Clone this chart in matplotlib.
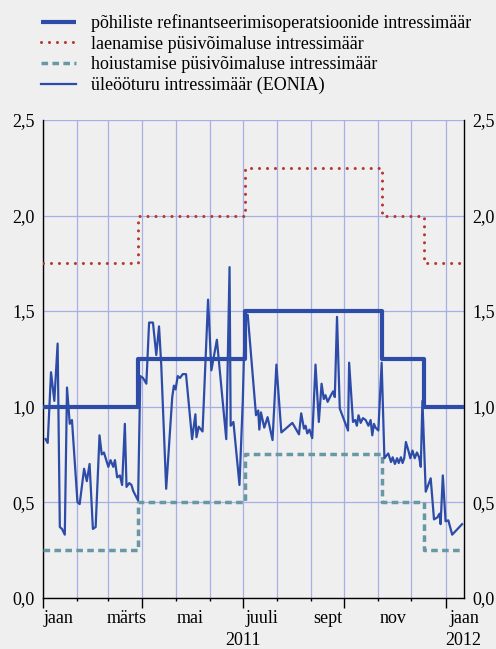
import matplotlib
matplotlib.use('Agg')
import matplotlib.pyplot as plt
import matplotlib.dates as mdates
from matplotlib.lines import Line2D
import numpy as np
import pandas as pd

plt.rcParams['font.family'] = ['Liberation Serif', 'DejaVu Serif']

START = pd.Timestamp('2011-01-01')

# key ECB rates, step changes (days counted from 1 Jan 2011)
policy_days = [0, 86, 183, 307, 345, 382]
mro_rate = [1.00, 1.25, 1.50, 1.25, 1.00, 1.00]
mlf_rate = [1.75, 2.00, 2.25, 2.00, 1.75, 1.75]
dep_rate = [0.25, 0.50, 0.75, 0.50, 0.25, 0.25]

# EONIA
eonia_days = [2, 4, 7, 10, 13, 15, 17, 19.5, 21.5, 24, 26, 31, 33, 37, 39.5, 42, 45, 47.5,
              51, 53, 55, 59, 61, 63.5, 65, 67, 69.5, 71.5, 74, 75.5, 78, 80, 81.5, 85, 86,
              88, 90.5, 93.5, 96, 99.5, 102.5, 105, 107, 111.5, 117, 118.5, 120, 122, 124,
              126.5, 129.5, 135, 138, 139, 141, 144.5, 149.5, 152.5, 157.5, 166, 169, 170,
              172.5, 178, 181, 183, 185.5, 193, 195, 196, 197.5, 200.5, 203.5, 208, 211.5,
              216, 221, 226, 232, 234, 236.5, 238, 239.5, 241.5, 244, 247, 250, 252.5, 254.5,
              256, 258, 261, 263, 264.5, 266.5, 269, 276.5, 277.5, 281, 283, 284.5, 286, 288,
              290, 292.5, 295, 297, 298.5, 300, 301.5, 304, 307, 309.5, 311.5, 313, 315.5,
              317, 319, 321, 322.5, 324.5, 326, 327.5, 329, 331.5, 333, 335, 337, 339, 341,
              342.5, 344, 347, 351.5, 354.5, 357.5, 359.5, 360.5, 362.5, 365, 367.5, 371, 380]
eonia_rate = [0.83, 0.81, 1.18, 1.03, 1.33, 0.37, 0.36, 0.33, 1.10, 0.91, 0.93, 0.50, 0.49,
              0.675, 0.61, 0.70, 0.36, 0.37, 0.85, 0.75, 0.76, 0.685, 0.72, 0.685, 0.72, 0.63,
              0.64, 0.59, 0.91, 0.58, 0.60, 0.59, 0.56, 0.52, 0.51, 1.16, 1.15, 1.12, 1.44,
              1.44, 1.27, 1.42, 1.22, 0.57, 1.05, 1.11, 1.09, 1.16, 1.15, 1.17, 1.17, 0.83,
              0.96, 0.84, 0.895, 0.87, 1.56, 1.19, 1.35, 0.83, 1.73, 0.90, 0.92, 0.59, 1.03,
              1.48, 1.48, 0.955, 0.98, 0.88, 0.97, 0.89, 0.945, 0.825, 1.22, 0.865, 0.89,
              0.915, 0.855, 0.965, 0.885, 0.90, 0.86, 0.88, 0.835, 1.22, 0.92, 1.12, 1.04,
              1.06, 1.025, 1.06, 1.08, 1.05, 1.47, 0.99, 0.875, 1.23, 0.92, 0.93, 0.90, 0.955,
              0.915, 0.94, 0.93, 0.90, 0.93, 0.85, 0.91, 0.89, 0.875, 1.23, 0.73, 0.745, 0.755,
              0.71, 0.735, 0.70, 0.73, 0.705, 0.735, 0.705, 0.73, 0.815, 0.765, 0.73, 0.77,
              0.73, 0.76, 0.735, 0.685, 1.03, 0.555, 0.625, 0.41, 0.42, 0.44, 0.385, 0.64,
              0.40, 0.405, 0.33, 0.385]

month_labels = ['jaan', 'märts', 'mai', 'juuli', 'sept', 'nov', 'jaan']
month_label_dates = ['2011-01-15', '2011-03-18', '2011-05-14', '2011-07-18',
                     '2011-09-16', '2011-11-14', '2012-01-18']
year_labels = ['2011', '2012']
year_label_dates = ['2011-07-01', '2012-01-17']
y_ticks = [0.0, 0.5, 1.0, 1.5, 2.0, 2.5]

legend_labels = ['põhiliste refinantseerimisoperatsioonide intressimäär',
                 'laenamise püsivõimaluse intressimäär',
                 'hoiustamise püsivõimaluse intressimäär',
                 'üleööturu intressimäär (EONIA)']

BG = '#efefef'
BLUE = '#2c4ca8'
RED = '#b4372d'
TEAL = '#6898a5'
GRID = '#a9afe6'
FS = 13


def to_dates(days):
    return (START + pd.to_timedelta(np.asarray(days, dtype=float), unit='D')).values


fig = plt.figure(figsize=(4.96, 6.49), dpi=100, facecolor=BG)
ax = fig.add_axes([0.0873, 0.079, 0.8488, 0.7361], facecolor=BG)

pdates = to_dates(policy_days)
mro_style = dict(color=BLUE, lw=3.0, solid_capstyle='butt')
mlf_style = dict(color=RED, lw=2.2, linestyle=(0, (0.01, 2.6)), dash_capstyle='round')
dep_style = dict(color=TEAL, lw=2.5, linestyle=(0, (1.9, 1.25)), dash_capstyle='butt')
eon_style = dict(color=BLUE, lw=1.6)

ax.plot(pdates, mro_rate, drawstyle='steps-post', zorder=3, **mro_style)
ax.plot(pdates, mlf_rate, drawstyle='steps-post', zorder=3, **mlf_style)
ax.plot(pdates, dep_rate, drawstyle='steps-post', zorder=3, **dep_style)
ax.plot(to_dates(eonia_days), eonia_rate, zorder=4, **eon_style)

ax.set_xlim(pdates[0], pdates[-1])
ax.set_ylim(0, 2.5)

# x axis: monthly grid, quarterly long ticks
ax.xaxis.set_major_locator(mdates.MonthLocator(bymonth=[1, 4, 7, 10]))
ax.xaxis.set_minor_locator(mdates.MonthLocator())
ax.tick_params(axis='x', which='major', length=7, width=1, direction='out', labelbottom=False)
ax.tick_params(axis='x', which='minor', length=2.5, width=1, direction='out')
ax.grid(axis='x', which='both', color=GRID, lw=0.9, zorder=0)

ax.set_yticks(y_ticks)
ax.set_yticklabels([f'{v:.1f}'.replace('.', ',') for v in y_ticks])
ax.tick_params(axis='y', length=0, pad=6, labelsize=FS, labelright=True)
ax.grid(axis='y', color=GRID, lw=0.9, zorder=0)
ax.set_axisbelow(True)

for side in ['left', 'right', 'bottom']:
    ax.spines[side].set_color('black')
    ax.spines[side].set_linewidth(1.0)
ax.spines['top'].set_visible(False)

xt = ax.get_xaxis_transform()
for lab, d in zip(month_labels, month_label_dates):
    ax.text(pd.Timestamp(d), -0.025, lab, transform=xt, ha='center', va='top', fontsize=FS)
for lab, d in zip(year_labels, year_label_dates):
    ax.text(pd.Timestamp(d), -0.072, lab, transform=xt, ha='center', va='top', fontsize=FS)

handles = [Line2D([], [], **mro_style), Line2D([], [], **mlf_style),
           Line2D([], [], **dep_style), Line2D([], [], **eon_style)]
fig.legend(handles, legend_labels, loc='upper left', bbox_to_anchor=(0.0827, 0.978),
           frameon=False, fontsize=FS, handlelength=1.94, handletextpad=0.83,
           labelspacing=0.2, borderpad=0, borderaxespad=0)

fig.savefig('out.png', dpi=100, facecolor=BG)
